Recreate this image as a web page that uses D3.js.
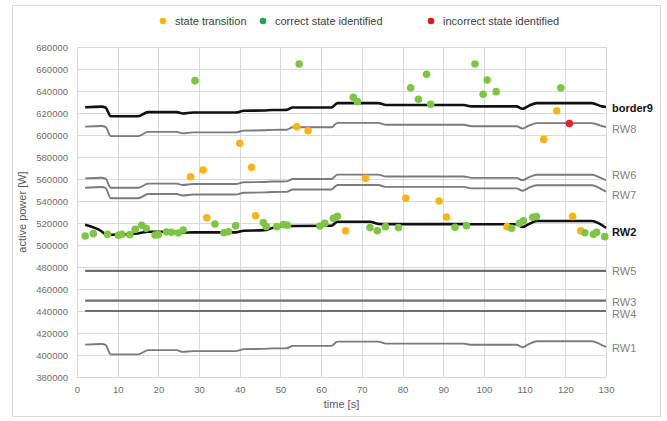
<!DOCTYPE html>
<html>
<head>
<meta charset="utf-8">
<script src="https://cdn.jsdelivr.net/npm/d3@7"></script>
<style>
  html, body { margin: 0; padding: 0; background: #fff; }
  svg { display: block; font-family: "Liberation Sans", Arial, sans-serif; }
</style>
</head>
<body>
<svg id="chart" width="667" height="421"></svg>
<script>
// Sample times shared by the stepped power profiles [s]
const profileTime = [2, 6, 7, 8.3, 15, 17.5, 24.5, 26, 28.5, 39, 41, 46, 48, 51.5, 53, 62.5, 64, 72, 74, 76, 95, 97, 108, 109.5, 111, 113, 126.5, 129, 130];
const flatTime = [2, 130];

// Active power of each reference profile [W]
const border9 = [625200, 625800, 625000, 617000, 617000, 620800, 620800, 619500, 620400, 620400, 622000, 622300, 622700, 622800, 625000, 625000, 629000, 629000, 629000, 627300, 627300, 626000, 626000, 623800, 626500, 629000, 629000, 626000, 625500];
const rw8 = [607600, 608200, 607400, 599000, 599000, 602800, 602800, 601500, 602400, 602400, 604000, 604300, 604700, 604800, 607000, 607000, 611000, 611000, 611000, 609300, 609300, 608000, 608000, 605800, 608500, 610800, 610800, 608200, 607300];
const rw6 = [560600, 561200, 560400, 552000, 552000, 555800, 555800, 554500, 555400, 555400, 557000, 557300, 557700, 557800, 560000, 560000, 564000, 564000, 564000, 562300, 562300, 561000, 561000, 558800, 561500, 563800, 563800, 560500, 559000];
const rw7 = [552100, 552700, 551900, 542500, 542500, 546300, 546300, 545000, 545900, 545900, 547500, 547800, 548200, 548300, 550500, 550500, 554500, 554500, 554500, 552800, 552800, 551500, 551500, 549300, 552000, 554300, 554300, 550500, 548500];
const rw2 = [518300, 512500, 510000, 509300, 510500, 512100, 512100, 511200, 511500, 511500, 513000, 513500, 515500, 517300, 517300, 517500, 521200, 521200, 519200, 519000, 519000, 518800, 518800, 516300, 519000, 521800, 521800, 518000, 515500];
const rw1 = [409400, 410000, 409200, 400600, 400600, 404400, 404400, 402800, 403500, 403500, 405300, 405600, 406000, 406100, 408300, 408300, 412200, 412200, 412200, 410300, 410300, 409300, 409300, 407000, 409800, 412500, 412500, 409000, 407300];
const rw5 = [476500, 476500];
const rw3 = [449500, 449500];
const rw4 = [440000, 440000];

// Identification results
const transitionTime = [27.9, 31.0, 31.9, 40.0, 42.9, 43.9, 54.0, 56.8, 66.0, 70.9, 80.8, 89.0, 90.8, 105.7, 114.7, 117.9, 121.8, 123.8];
const transitionPower = [562100, 568200, 524800, 592500, 570600, 526600, 607500, 603900, 513000, 560600, 542500, 540000, 525500, 516700, 596000, 622000, 526000, 513000];

const correctTime = [2.0, 4.0, 7.5, 10.2, 11.0, 13.0, 14.3, 15.9, 17.0, 19.2, 20.0, 22.0, 23.2, 24.9, 26.1, 33.9, 36.1, 37.2, 39.0, 45.8, 46.5, 49.1, 50.7, 51.7, 59.7, 60.9, 63.0, 64.0, 72.0, 73.8, 75.8, 79.0, 92.9, 95.7, 106.8, 108.7, 109.7, 112.0, 112.9, 124.8, 126.9, 127.7, 129.7,
  29.0, 54.6, 67.9, 68.9, 82.0, 83.9, 85.9, 86.9, 97.8, 99.8, 100.8, 103.0, 118.9];
const correctPower = [508200, 510300, 509700, 508800, 509700, 509400, 514300, 517900, 515200, 509100, 509400, 511800, 511500, 510900, 513600, 519100, 511200, 512100, 517600, 520300, 516800, 516700, 518500, 517900, 517300, 519700, 524300, 526100, 515800, 513000, 516700, 515800, 516100, 517600, 515200, 519700, 522100, 525200, 525800, 511200, 509700, 511500, 507600,
  649400, 664500, 634300, 630300, 643000, 632400, 655200, 627900, 664500, 637000, 650000, 639400, 642900];

const incorrectTime = [121.0];
const incorrectPower = [610500];

// Axis ticks
const xTicks = [0, 10, 20, 30, 40, 50, 60, 70, 80, 90, 100, 110, 120, 130];
const yTicks = [380000, 400000, 420000, 440000, 460000, 480000, 500000, 520000, 540000, 560000, 580000, 600000, 620000, 640000, 660000, 680000];

const legendLabels = ["state transition", "correct state identified", "incorrect state identified"];

// ---- styling / layout ----
const colTransition = "#fbb317";
const colCorrect = "#7fc545";
const colIncorrect = "#e3262b";
const legendCols = ["#f7b500", "#1ea44b", "#e4141b"];

const series = [
  { name: "border9", t: profileTime, v: border9, color: "#111", width: 2.6, bold: true, nudge: 1 },
  { name: "RW8", t: profileTime, v: rw8, color: "#7b7b7b", width: 1.9, nudge: 2.5 },
  { name: "RW6", t: profileTime, v: rw6, color: "#7b7b7b", width: 1.9, nudge: -4.5 },
  { name: "RW7", t: profileTime, v: rw7, color: "#7b7b7b", width: 1.9, nudge: 3.5 },
  { name: "RW2", t: profileTime, v: rw2, color: "#111", width: 2.6, bold: true, nudge: 4.5 },
  { name: "RW5", t: flatTime, v: rw5, color: "#6e6e6e", width: 2.2, nudge: 0.5 },
  { name: "RW3", t: flatTime, v: rw3, color: "#6e6e6e", width: 2.2, nudge: 1.5 },
  { name: "RW4", t: flatTime, v: rw4, color: "#6e6e6e", width: 2.2, nudge: 3 },
  { name: "RW1", t: profileTime, v: rw1, color: "#7b7b7b", width: 1.9, nudge: 1 }
];

const svg = d3.select("#chart");
const plot = { left: 77, right: 606, top: 47, bottom: 377 };

const x = d3.scaleLinear().domain([0, 130]).range([plot.left, plot.right]);
const y = d3.scaleLinear().domain([380000, 680000]).range([plot.bottom, plot.top]);

// outer frame
svg.append("rect")
  .attr("x", 12.5).attr("y", 5.5).attr("width", 648).attr("height", 411)
  .attr("fill", "#fff").attr("stroke", "#d9d9d9").attr("stroke-width", 1);

// grid
const grid = svg.append("g");
grid.selectAll("line.h").data(yTicks).join("line")
  .attr("x1", plot.left).attr("x2", plot.right)
  .attr("y1", d => Math.round(y(d)) + 0.5).attr("y2", d => Math.round(y(d)) + 0.5)
  .attr("stroke", "#d9d9d9").attr("stroke-width", 1);
grid.selectAll("line.v").data(xTicks).join("line")
  .attr("y1", plot.top).attr("y2", plot.bottom)
  .attr("x1", d => Math.round(x(d)) + 0.5).attr("x2", d => Math.round(x(d)) + 0.5)
  .attr("stroke", "#d9d9d9").attr("stroke-width", 1);

// axes (labels only; grid supplies the lines)
const yAxis = svg.append("g").attr("transform", `translate(${plot.left},0)`)
  .call(d3.axisLeft(y).tickValues(yTicks).tickFormat(d3.format("d")).tickSize(0).tickPadding(9));
const xAxis = svg.append("g").attr("transform", `translate(0,${plot.bottom})`)
  .call(d3.axisBottom(x).tickValues(xTicks).tickFormat(d3.format("d")).tickSize(0).tickPadding(9));
[yAxis, xAxis].forEach(a => {
  a.select(".domain").remove();
  a.selectAll("text").attr("fill", "#6d6d6d").style("font-size", "9.5px");
});

// axis titles
svg.append("text").attr("x", (plot.left + plot.right) / 2).attr("y", 408)
  .attr("text-anchor", "middle").attr("fill", "#595959").style("font-size", "11px").text("time [s]");
svg.append("text").attr("transform", `translate(26,${(plot.top + plot.bottom) / 2}) rotate(-90)`)
  .attr("text-anchor", "middle").attr("fill", "#595959").style("font-size", "11px").text("active power [W]");

// profiles
const line = d3.line().curve(d3.curveMonotoneX);
const lines = svg.append("g");
series.forEach(s => {
  const pts = s.t.map((t, i) => [x(t), y(s.v[i])]);
  lines.append("path").attr("d", line(pts))
    .attr("fill", "none").attr("stroke", s.color).attr("stroke-width", s.width)
    .attr("stroke-linejoin", "round");
  const last = s.v[s.v.length - 1];
  lines.append("text")
    .attr("x", x(130) + 6).attr("y", y(last) + s.nudge)
    .attr("dy", "0.35em")
    .attr("fill", s.bold ? "#111" : "#7f7f7f")
    .style("font-size", "11px")
    .style("font-weight", s.bold ? "bold" : "normal")
    .text(s.name);
});

// identification markers
const dots = svg.append("g");
function drawDots(ts, ps, color) {
  dots.selectAll(null).data(ts).join("circle")
    .attr("cx", (t) => x(t)).attr("cy", (t, i) => y(ps[i]))
    .attr("r", 3.8).attr("fill", color);
}
drawDots(transitionTime, transitionPower, colTransition);
drawDots(correctTime, correctPower, colCorrect);
drawDots(incorrectTime, incorrectPower, colIncorrect);

// legend
const legendX = [163, 263, 431];
const legend = svg.append("g");
legendLabels.forEach((lab, i) => {
  legend.append("circle").attr("cx", legendX[i]).attr("cy", 21).attr("r", 3.3).attr("fill", legendCols[i]);
  legend.append("text").attr("x", legendX[i] + 12).attr("y", 21).attr("dy", "0.35em")
    .attr("fill", "#404040").style("font-size", "11px").text(lab);
});
</script>
</body>
</html>
